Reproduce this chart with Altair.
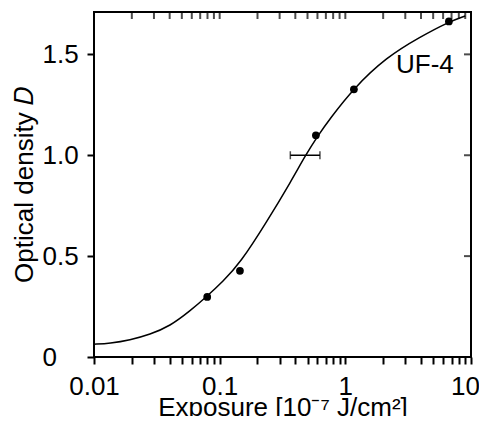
import altair as alt
import pandas as pd

# ---- data ----
curve_x = [0.01, 0.0134, 0.0193, 0.0279, 0.0402, 0.058, 0.0788, 0.106, 0.145,
           0.236, 0.374, 0.477, 0.609, 0.754, 1.156, 2.13, 3.92, 6.59, 9.0]
curve_d = [0.063, 0.068, 0.084, 0.112, 0.153, 0.228, 0.299, 0.374, 0.464,
           0.668, 0.876, 0.995, 1.100, 1.181, 1.330, 1.487, 1.586, 1.660, 1.690]

pts_x = [0.0796, 0.145, 0.583, 1.17, 6.67]
pts_d = [0.298, 0.427, 1.099, 1.327, 1.663]

err_lo = [0.365]
err_hi = [0.628]
err_d = [1.0]

label_text = ["UF-4"]
label_x = [4.3]
label_d = [1.445]

x_domain = [0.01, 10]
y_domain = [0, 1.71]
x_ticks = [0.01, 0.02, 0.03, 0.04, 0.05, 0.06, 0.07, 0.08, 0.09,
           0.1, 0.2, 0.3, 0.4, 0.5, 0.6, 0.7, 0.8, 0.9,
           1, 2, 3, 4, 5, 6, 7, 8, 9, 10]
y_ticks = [0, 0.5, 1.0, 1.5]

x_title = "Exposure [10⁻⁷ J/cm²]"
y_title = "Optical density 𝐷"

FONT = "Liberation Sans"
FS = 26
W, H, TICK, TW = 377, 345, 7, 2

curve_df = pd.DataFrame({"x": curve_x, "d": curve_d})
pts_df = pd.DataFrame({"x": pts_x, "d": pts_d})
err_df = pd.DataFrame({"lo": err_lo, "hi": err_hi, "d": err_d})
cap_df = pd.DataFrame({"x": err_lo + err_hi, "d": err_d * 2})
lab_df = pd.DataFrame({"t": label_text, "x": label_x, "d": label_d})
# mirrored inward ticks on the top and right edges of the frame
tt_df = pd.DataFrame({"x": x_ticks, "d": [y_domain[1]] * len(x_ticks)})
rt_df = pd.DataFrame({"x": [x_domain[1]] * len(y_ticks), "d": y_ticks})

xs = alt.Scale(type="log", domain=x_domain, nice=False)
ys = alt.Scale(domain=y_domain, nice=False, zero=False)

x_label_expr = ("abs(log(datum.value)/LN10 - round(log(datum.value)/LN10)) < 0.01"
                " ? format(datum.value, '~g') : ''")
y_label_expr = "datum.value == 0 ? '0' : format(datum.value, '.1f')"

x_axis = alt.Axis(values=x_ticks, labelExpr=x_label_expr, title=x_title,
                  labelFlush=False, labelOverlap=False, labelPadding=9,
                  labelOffset={"condition": {"test": "datum.value == 10", "value": -6},
                               "value": 0},
                  titlePadding=-5, orient="bottom")
y_axis = alt.Axis(values=y_ticks, labelExpr=y_label_expr, title=y_title,
                  labelAlign="left", labelPadding=45, titlePadding=5, orient="left",
                  labelFlush=False, labelOverlap=False)

curve = alt.Chart(curve_df).mark_line(
    color="black", strokeWidth=1.5, interpolate="basis"
).encode(
    x=alt.X("x:Q", scale=xs, axis=x_axis),
    y=alt.Y("d:Q", scale=ys, axis=y_axis),
)

top_ticks = alt.Chart(tt_df).mark_tick(
    color="black", orient="vertical", size=TICK, thickness=TW, yOffset=TICK / 2
).encode(x=alt.X("x:Q", scale=xs), y=alt.Y("d:Q", scale=ys))
right_ticks = alt.Chart(rt_df).mark_tick(
    color="black", orient="horizontal", size=TICK, thickness=TW, xOffset=-TICK / 2
).encode(x=alt.X("x:Q", scale=xs), y=alt.Y("d:Q", scale=ys))

points = alt.Chart(pts_df).mark_circle(color="black", size=60, opacity=1).encode(
    x=alt.X("x:Q", scale=xs), y=alt.Y("d:Q", scale=ys)
)

err = alt.Chart(err_df).mark_rule(color="black", strokeWidth=1.5).encode(
    x=alt.X("lo:Q", scale=xs), x2="hi:Q", y=alt.Y("d:Q", scale=ys)
)

caps = alt.Chart(cap_df).mark_tick(
    color="black", orient="vertical", size=8, thickness=1.5
).encode(x=alt.X("x:Q", scale=xs), y=alt.Y("d:Q", scale=ys))

label = alt.Chart(lab_df).mark_text(
    font=FONT, fontSize=FS, color="black", align="center", baseline="middle"
).encode(x=alt.X("x:Q", scale=xs), y=alt.Y("d:Q", scale=ys), text="t:N")

chart = alt.layer(
    curve, top_ticks, right_ticks, points, err, caps, label
).properties(
    width=W, height=H,
    autosize=alt.AutoSizeParams(type="none"),
    padding={"left": 86, "top": 4, "right": 8, "bottom": 59},
).configure_view(
    stroke="black", strokeWidth=2
).configure_axis(
    grid=False, domain=False, ticks=True, tickColor="black", tickWidth=TW,
    tickSize=TICK, labelFont=FONT, labelFontSize=FS, labelColor="black",
    titleFont=FONT, titleFontSize=FS, titleFontWeight="normal", titleColor="black"
)

chart.save("out.html", embed_options={"renderer": "svg", "actions": False})
